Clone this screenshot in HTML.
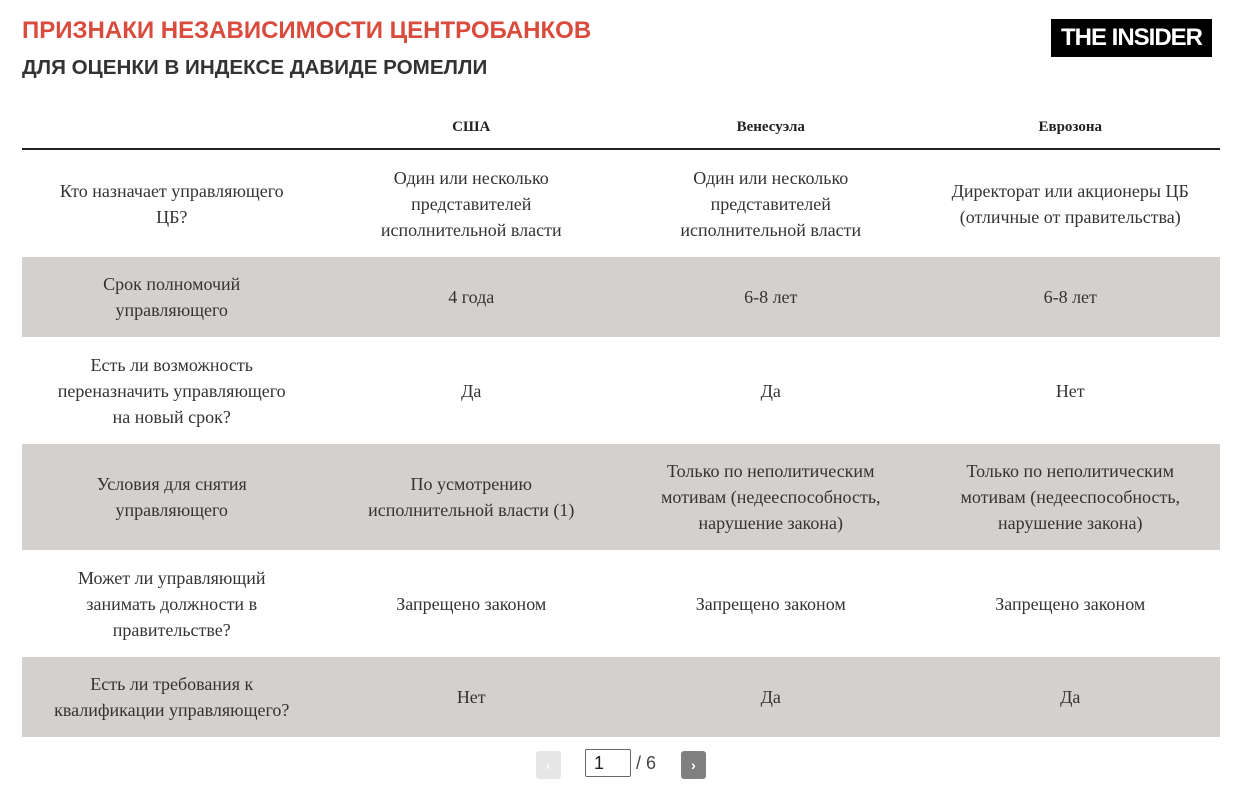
<!DOCTYPE html>
<html><head><meta charset="utf-8"><style>
*{margin:0;padding:0;box-sizing:border-box}
body{width:1245px;height:804px;background:#fff;position:relative;overflow:hidden;font-family:"Liberation Serif",serif;color:#333}
.t1{position:absolute;left:22px;top:17px;font:bold 24px "Liberation Sans",sans-serif;color:#d94c3d;white-space:nowrap;transform:scaleX(1.0);transform-origin:left}
.t2{position:absolute;left:22px;top:57px;font:bold 20px "Liberation Sans",sans-serif;color:#333;white-space:nowrap;transform:scaleX(1.03);transform-origin:left}
.logo{position:absolute;left:1051px;top:19px;width:161px;height:38px;background:#000;color:#fff;font:bold 24px "Liberation Sans",sans-serif;letter-spacing:-1px;display:flex;align-items:center;justify-content:center}
.row{position:absolute;left:22px;width:1198px;display:flex}
.row div{width:299.5px;display:flex;align-items:center;justify-content:center;text-align:center;font-size:18px;line-height:26px;padding:0 28px}
.g{background:#d4d0ce}
.h div{font-size:15px;font-weight:bold;color:#222}
.line{position:absolute;left:22px;top:148px;width:1198px;height:2px;background:#222}
.pg{position:absolute;font-family:"Liberation Sans",sans-serif}
</style></head><body>
<div class="t1">ПРИЗНАКИ НЕЗАВИСИМОСТИ ЦЕНТРОБАНКОВ</div>
<div class="t2">ДЛЯ ОЦЕНКИ В ИНДЕКСЕ ДАВИДЕ РОМЕЛЛИ</div>
<div class="logo">THE INSIDER</div>
<div class="row h" style="top:111px;height:32px"><div></div><div>США</div><div>Венесуэла</div><div>Еврозона</div></div>
<div class="line"></div>
<div class="row" style="top:150px;height:107px"><div>Кто назначает управляющего ЦБ?</div><div>Один или несколько представителей исполнительной власти</div><div>Один или несколько представителей исполнительной власти</div><div>Директорат или акционеры ЦБ (отличные от правительства)</div></div>
<div class="row g" style="top:257px;height:80px"><div>Срок полномочий управляющего</div><div>4 года</div><div>6-8 лет</div><div>6-8 лет</div></div>
<div class="row" style="top:337px;height:107px"><div>Есть ли возможность переназначить управляющего на новый срок?</div><div>Да</div><div>Да</div><div>Нет</div></div>
<div class="row g" style="top:444px;height:106px"><div>Условия для снятия управляющего</div><div>По усмотрению исполнительной власти (1)</div><div>Только по неполитическим мотивам (недееспособность, нарушение закона)</div><div>Только по неполитическим мотивам (недееспособность, нарушение закона)</div></div>
<div class="row" style="top:550px;height:107px"><div>Может ли управляющий занимать должности в правительстве?</div><div>Запрещено законом</div><div>Запрещено законом</div><div>Запрещено законом</div></div>
<div class="row g" style="top:657px;height:80px"><div>Есть ли требования к квалификации управляющего?</div><div>Нет</div><div>Да</div><div>Да</div></div>
<div class="pg" style="left:536px;top:751px;width:25px;height:28px;background:#e6e6e6;border-radius:3px;color:#fff;font-size:14px;text-align:center;line-height:28px">‹</div>
<div class="pg" style="left:585px;top:749px;width:46px;height:28px;border:1px solid #666;border-radius:2px;font-size:18px;line-height:26px;padding-left:8px;color:#222">1</div>
<div class="pg" style="left:636px;top:753px;font-size:18px;color:#444">/ 6</div>
<div class="pg" style="left:681px;top:751px;width:25px;height:28px;background:#808080;border-radius:3px;color:#fff;font-size:14px;font-weight:bold;text-align:center;line-height:28px">›</div>
</body></html>
